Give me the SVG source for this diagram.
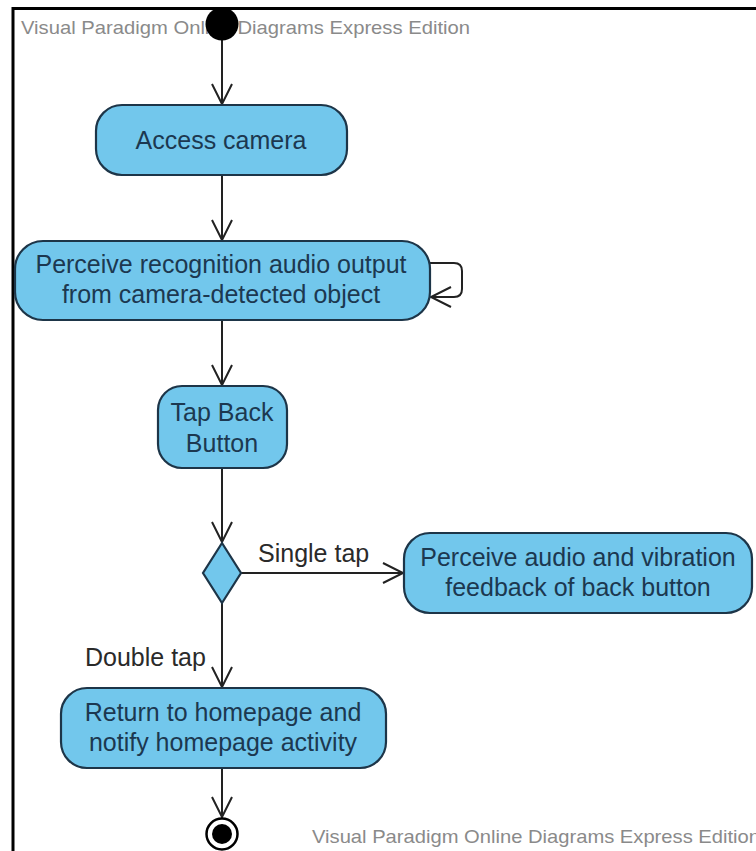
<svg xmlns="http://www.w3.org/2000/svg" width="756" height="851" viewBox="0 0 756 851">
  <style>
    .act { fill: #72c7ec; stroke: #1d3548; stroke-width: 2.2; }
    .lbl { font-family: "Liberation Sans", Arial, sans-serif; font-size: 25px; fill: #1c3850; text-anchor: middle; }
    .edge { fill: none; stroke: #222; stroke-width: 2; }
    .elbl { font-family: "Liberation Sans", Arial, sans-serif; font-size: 25px; fill: #2a2a2a; }
    .wm { font-family: "Liberation Sans", Arial, sans-serif; font-size: 19px; fill: #8a8a8a; }
  </style>
  <defs>
    <marker id="open" viewBox="0 0 24 24" refX="21" refY="12" markerWidth="24" markerHeight="24" markerUnits="userSpaceOnUse" orient="auto">
      <path d="M1,2 L21,12 L1,22" fill="none" stroke="#222" stroke-width="2"/>
    </marker>
  </defs>

  <rect width="756" height="851" fill="#ffffff"/>
  <!-- diagram frame -->
  <path d="M13,851 V8.5 H756" fill="none" stroke="#000" stroke-width="3"/>

  <text class="wm" x="21" y="34" textLength="449" lengthAdjust="spacingAndGlyphs">Visual Paradigm Online Diagrams Express Edition</text>
  <text class="wm" x="312" y="843" textLength="448" lengthAdjust="spacingAndGlyphs">Visual Paradigm Online Diagrams Express Edition</text>

  <g id="connectors">
    <path class="edge" d="M222,40 V104" marker-end="url(#open)"/>
    <path class="edge" d="M222,175 V240" marker-end="url(#open)"/>
    <path class="edge" d="M430,263 H454 Q462,263 462,271 V289 Q462,297 454,297 H431" marker-end="url(#open)"/>
    <path class="edge" d="M222,320 V385" marker-end="url(#open)"/>
    <path class="edge" d="M222,468 V542" marker-end="url(#open)"/>
    <path class="edge" d="M241,573 H403" marker-end="url(#open)"/>
    <path class="edge" d="M222,603 V687" marker-end="url(#open)"/>
    <path class="edge" d="M222,768 V817" marker-end="url(#open)"/>
    <text class="elbl" x="258" y="562">Single tap</text>
    <text class="elbl" x="85" y="666">Double tap</text>
  </g>

  <g id="start">
    <circle cx="222" cy="24" r="16.5" fill="#000"/>
  </g>

  <g id="access-camera">
    <rect class="act" x="96" y="105" width="251" height="70" rx="26"/>
    <text class="lbl" x="221" y="149">Access camera</text>
  </g>

  <g id="perceive-recognition">
    <rect class="act" x="15" y="241" width="415" height="79" rx="28"/>
    <text class="lbl" x="221" y="273">Perceive recognition audio output</text>
    <text class="lbl" x="221" y="303">from camera-detected object</text>
  </g>

  <g id="tap-back">
    <rect class="act" x="158" y="386" width="129" height="82" rx="24"/>
    <text class="lbl" x="222" y="421">Tap Back</text>
    <text class="lbl" x="222" y="452">Button</text>
  </g>

  <g id="decision">
    <path class="act" d="M222,543 L241,573 L222,603 L203,573 Z"/>
  </g>

  <g id="perceive-feedback">
    <rect class="act" x="404" y="533" width="348" height="80" rx="26"/>
    <text class="lbl" x="578" y="566">Perceive audio and vibration</text>
    <text class="lbl" x="578" y="596">feedback of back button</text>
  </g>

  <g id="return-home">
    <rect class="act" x="61" y="688" width="325" height="80" rx="26"/>
    <text class="lbl" x="223" y="721">Return to homepage and</text>
    <text class="lbl" x="223" y="751">notify homepage activity</text>
  </g>

  <g id="end">
    <circle cx="222" cy="834" r="15.5" fill="#fff" stroke="#000" stroke-width="2.5"/>
    <circle cx="222" cy="834" r="10" fill="#000"/>
  </g>
</svg>
